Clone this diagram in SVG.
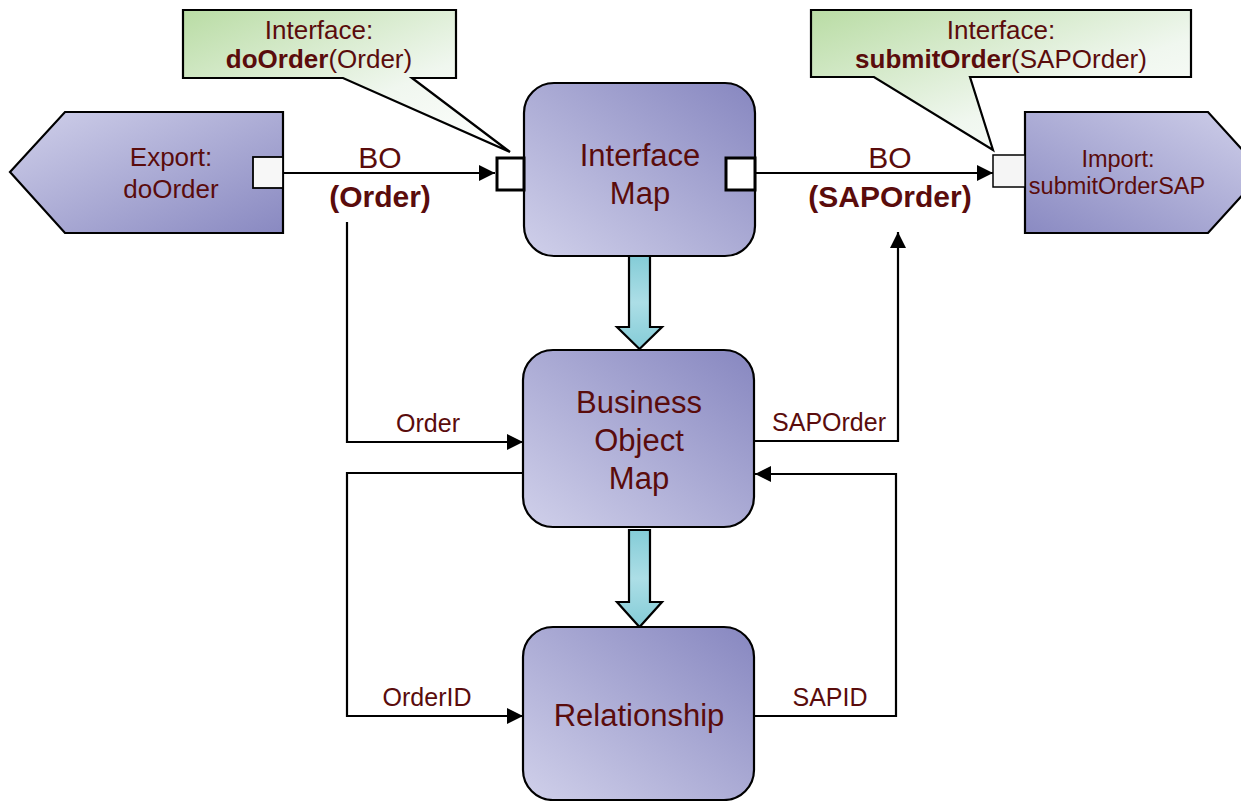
<svg xmlns="http://www.w3.org/2000/svg" width="1241" height="801" viewBox="0 0 1241 801">
<style>
text{font-family:"Liberation Sans",Arial,sans-serif;fill:#5a0c0c;text-anchor:middle}
.node{stroke:#000;stroke-width:2.2;fill:url(#nodeGrad)}
.callout{stroke:#000;stroke-width:2.2;fill:url(#greenGrad)}
.conn{fill:none;stroke:#000;stroke-width:2.2}
.block{fill:url(#tealGrad);stroke:#000;stroke-width:2.2;stroke-linejoin:miter}
.f31{font-size:31px}
.f30{font-size:30px}
.f26{font-size:26px}
.f25{font-size:25px}
.f23{font-size:23.5px}
.b{font-weight:bold}
</style>
<defs>
<linearGradient id="nodeGrad" x1="0" y1="1" x2="1" y2="0">
<stop offset="0" stop-color="#d0d0ea"/>
<stop offset="1" stop-color="#8787c0"/>
</linearGradient>
<linearGradient id="exportGrad" x1="0" y1="0" x2="1" y2="1">
<stop offset="0" stop-color="#d0d0ea"/>
<stop offset="1" stop-color="#8989c1"/>
</linearGradient>
<linearGradient id="importGrad" x1="0" y1="1" x2="1" y2="0">
<stop offset="0" stop-color="#8a8ac2"/>
<stop offset="1" stop-color="#d0d0ea"/>
</linearGradient>
<linearGradient id="greenGrad" x1="0" y1="0" x2="1" y2="1">
<stop offset="0" stop-color="#b9dca4"/>
<stop offset="0.6" stop-color="#f0f7ef"/>
<stop offset="1" stop-color="#ffffff"/>
</linearGradient>
<linearGradient id="tealGrad" x1="0" y1="0" x2="0" y2="1">
<stop offset="0" stop-color="#84ccd7"/>
<stop offset="0.5" stop-color="#acdee6"/>
<stop offset="1" stop-color="#84ccd7"/>
</linearGradient>
<marker id="arrow" viewBox="0 0 10 10" refX="10" refY="5" markerWidth="16" markerHeight="16" markerUnits="userSpaceOnUse" orient="auto">
<path d="M0,0 L10,5 L0,10 Z" fill="#000"/>
</marker>
</defs>

<g id="connectors">
<line class="conn" x1="283" y1="173" x2="495" y2="173" marker-end="url(#arrow)"/>
<line class="conn" x1="755" y1="173" x2="993" y2="173" marker-end="url(#arrow)"/>
<polyline class="conn" points="347,222 347,442 523,442" marker-end="url(#arrow)"/>
<polyline class="conn" points="754,441 898,441 898,232" marker-end="url(#arrow)"/>
<polyline class="conn" points="523,473 347,473 347,716 523,716" marker-end="url(#arrow)"/>
<polyline class="conn" points="754,716 896,716 896,474 755,474" marker-end="url(#arrow)"/>
<path class="block" d="M629,256 H650 V327 H662 L639.5,349 L617,327 H629 Z"/>
<path class="block" d="M629,530 H650 V602 H662 L639.5,627 L617,602 H629 Z"/>
<text class="f30" x="380" y="168">BO</text>
<text class="f30 b" x="380" y="207">(Order)</text>
<text class="f30" x="890" y="168">BO</text>
<text class="f30 b" x="890" y="207">(SAPOrder)</text>
<text class="f25" x="428" y="432">Order</text>
<text class="f25" x="829" y="431">SAPOrder</text>
<text class="f25" x="427" y="706">OrderID</text>
<text class="f25" x="830" y="706">SAPID</text>
</g>

<g id="callout-doOrder">
<path class="callout" d="M183,10 H456 V78 H412 L510,152 L343,78 H183 Z"/>
<text class="f26" x="319" y="39">Interface:</text>
<text class="f26" x="319" y="68"><tspan font-weight="bold">doOrder</tspan>(Order)</text>
</g>

<g id="callout-submitOrder">
<path class="callout" d="M811,10 H1191 V77 H970 L993,150 L874,77 H811 Z"/>
<text class="f26" x="1001" y="39">Interface:</text>
<text class="f26" x="1001" y="68"><tspan font-weight="bold">submitOrder</tspan>(SAPOrder)</text>
</g>

<g id="export-doOrder">
<polygon points="10,172 65,112 283,112 283,233 65,233" fill="url(#exportGrad)" stroke="#000" stroke-width="2.2"/>
<rect x="253" y="157" width="30" height="31" fill="#f7f7f7" stroke="#000" stroke-width="1.8"/>
<text class="f26" x="171" y="166">Export:</text>
<text class="f26" x="171" y="198">doOrder</text>
</g>

<g id="import-submitOrderSAP">
<polygon points="1025,112 1208,112 1263,172.5 1208,233 1025,233" fill="url(#importGrad)" stroke="#000" stroke-width="2.2"/>
<rect x="993" y="155" width="32" height="32" fill="#f5f5f5" stroke="#000" stroke-width="1.5"/>
<text class="f23" x="1118" y="167">Import:</text>
<text class="f23" x="1117" y="194">submitOrderSAP</text>
</g>

<g id="interface-map">
<rect class="node" x="524" y="83" width="231" height="173" rx="30" ry="30"/>
<rect x="497" y="158" width="27" height="32" fill="#fff" stroke="#000" stroke-width="3"/>
<rect x="726" y="158" width="29" height="32" fill="#fff" stroke="#000" stroke-width="3"/>
<text class="f31" x="640" y="166">Interface</text>
<text class="f31" x="640" y="204">Map</text>
</g>

<g id="business-object-map">
<rect class="node" x="523" y="350" width="231" height="177" rx="30" ry="30"/>
<text class="f31" x="639" y="413">Business</text>
<text class="f31" x="639" y="451">Object</text>
<text class="f31" x="639" y="489">Map</text>
</g>

<g id="relationship">
<rect class="node" x="523" y="627" width="231" height="173" rx="30" ry="30"/>
<text class="f31" x="639" y="726">Relationship</text>
</g>
</svg>
